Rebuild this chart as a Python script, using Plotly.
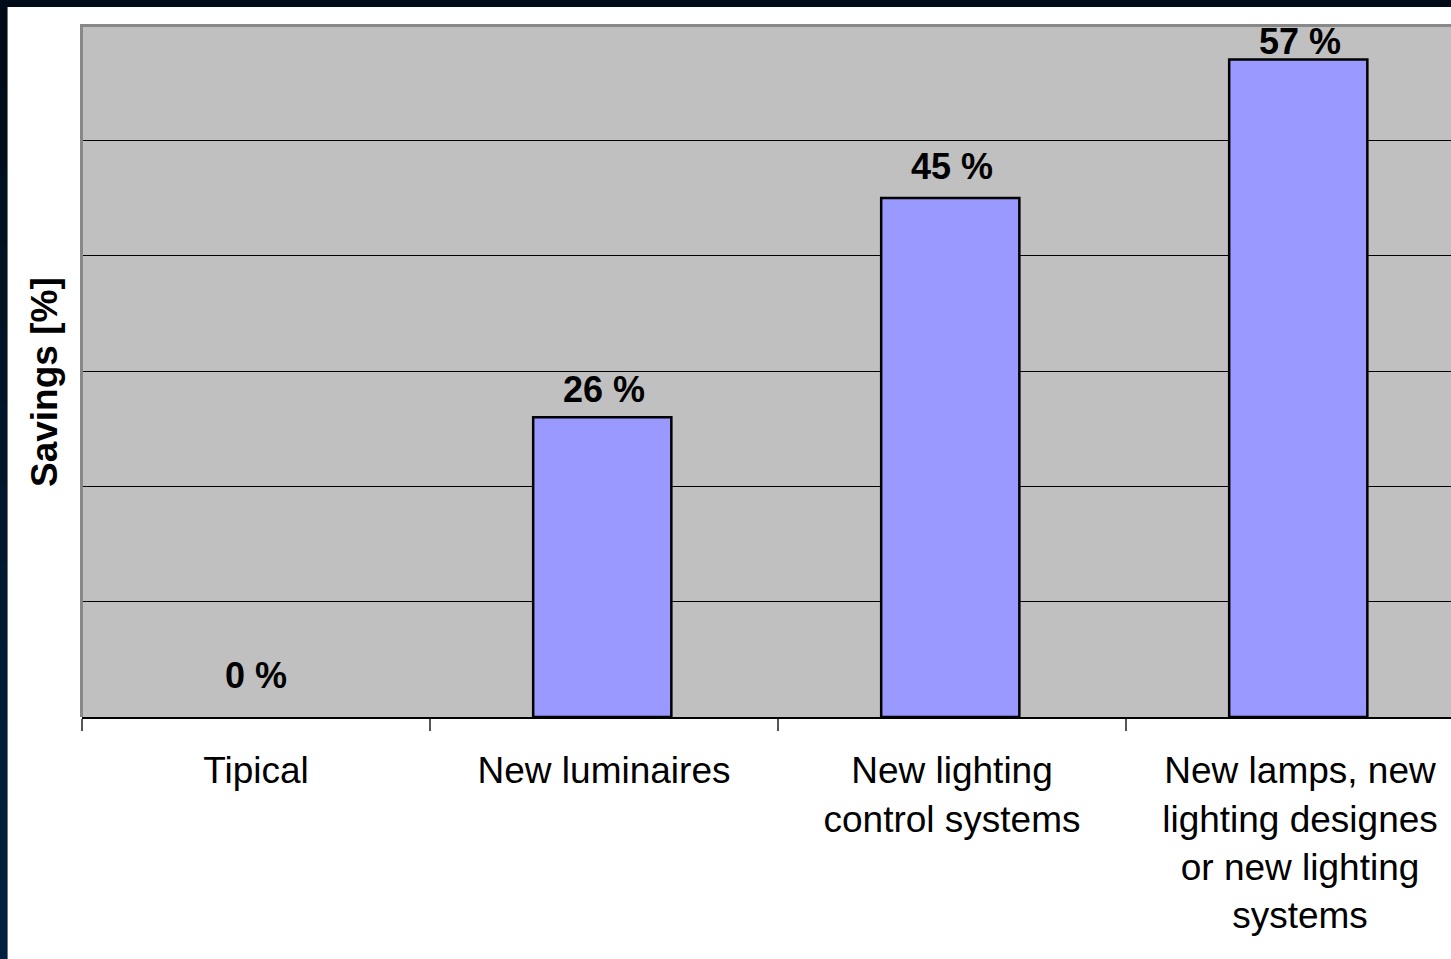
import plotly.graph_objects as go

categories = ["Tipical", "New luminaires", "New lighting<br>control systems",
              "New lamps, new<br>lighting designes<br>or new lighting<br>systems"]
savings = [0, 26, 45, 57]
value_labels = ["0 %", "26 %", "45 %", "57 %"]
label_lift_px = [42, 28, 32, 18]

W, H = 1451, 959
L, T, B = 82, 25, 242
plot_w = W - L
plot_h = H - T - B
cat_px = 348.0
x_hi = -0.5 + plot_w / cat_px

def px_x(px):
    return (px - L) / plot_w

def px_y(py):
    return (H - B - py) / plot_h

outline_w = [0 if v == 0 else 2.5 for v in savings]

fig = go.Figure()
fig.add_trace(go.Bar(
    x=categories, y=savings,
    marker=dict(color="#9999FF", line=dict(color="#000000", width=outline_w)),
    width=0.397, offset=-0.2035, hoverinfo="skip",
))

for c, v, t, s in zip(categories, savings, value_labels, label_lift_px):
    fig.add_annotation(x=c, y=v, text=t, showarrow=False, yanchor="middle",
                       yshift=s, font=dict(family="Liberation Sans, Arial", size=36,
                                           color="#000000", weight="bold"))

fig.add_annotation(xref="paper", yref="paper", x=px_x(44), y=px_y(382),
                   text="<b>Savings [%]</b>", textangle=-90, showarrow=False,
                   xanchor="center", yanchor="middle",
                   font=dict(family="Liberation Sans, Arial", size=37, color="#000000"))

shapes = []
# top and left plot border (grey)
shapes.append(dict(type="line", xref="paper", yref="paper", x0=px_x(80), x1=1.0,
                   y0=px_y(25.5), y1=px_y(25.5), line=dict(color="#888888", width=3)))
shapes.append(dict(type="line", xref="paper", yref="paper", x0=px_x(81.5), x1=px_x(81.5),
                   y0=px_y(24), y1=px_y(717), line=dict(color="#888888", width=3)))
# dark frame of the slide
shapes.append(dict(type="rect", xref="paper", yref="paper", x0=px_x(-2), x1=px_x(W + 2),
                   y0=px_y(7), y1=px_y(-2), fillcolor="#020c18", line=dict(width=0)))
segs = 12
for i in range(segs):
    y0 = 7 + (H - 7) * i / segs
    y1 = 7 + (H - 7) * (i + 1) / segs + 1
    f = i / (segs - 1)
    r = int(2 + (0 - 2) * f)
    g = int(12 + (34 - 12) * f)
    b = int(24 + (64 - 24) * f)
    shapes.append(dict(type="rect", xref="paper", yref="paper", x0=px_x(-2), x1=px_x(7),
                       y0=px_y(y1), y1=px_y(y0), fillcolor=f"rgb({r},{g},{b})",
                       line=dict(width=0)))
shapes.append(dict(type="line", xref="paper", yref="paper", x0=px_x(7.5), x1=px_x(7.5),
                   y0=px_y(7), y1=px_y(H), line=dict(color="#777777", width=1)))

fig.update_layout(
    width=W, height=H,
    margin=dict(l=L, r=0, t=T, b=B, pad=0),
    paper_bgcolor="#FFFFFF", plot_bgcolor="#C0C0C0",
    showlegend=False, shapes=shapes,
    font=dict(family="Liberation Sans, Arial", color="#000000"),
    xaxis=dict(range=[-0.5, x_hi], tickson="boundaries", ticks="outside", ticklen=12,
               tickwidth=2, tickcolor="#555555", showline=True, linecolor="#000000",
               linewidth=2, showgrid=False, tickfont=dict(size=37, color="#000000"),
               ticklabelstandoff=20, fixedrange=True),
    yaxis=dict(range=[0, 60], dtick=10, showticklabels=False, ticks="",
               showgrid=True, gridcolor="#000000", gridwidth=1, zeroline=False,
               showline=False, fixedrange=True),
)

fig.write_html("out.html")
